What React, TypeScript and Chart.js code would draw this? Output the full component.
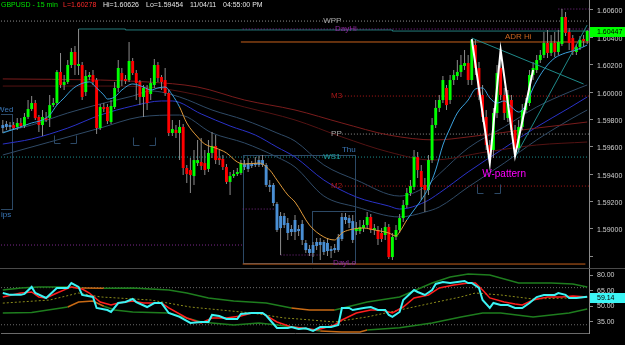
import React, { useEffect, useRef } from 'react';
import { Chart, registerables } from 'chart.js';

Chart.register(...registerables);

const FONT = '"Liberation Sans", Arial, Helvetica, sans-serif';

// ---------- categories: 15-minute bars (11/2 00:30 -> 11/3 17:00) ----------
const BAR_COUNT = 163;
const timeTickIndex = [10, 22, 34, 46, 58, 70, 82, 94, 106, 118, 130, 142, 154];
const timeTickLabels = ['3:00', '6:00', '9:00', '12:00', '15:00', '18:00', '21:00', '11/3', '3:00', '6:00', '9:00', '12:00', '15:00'];
const priceTicks = [1.588, 1.59, 1.592, 1.594, 1.596, 1.598, 1.6, 1.602, 1.604, 1.606];
const oscTicks = [35, 50, 65, 80];

// ---------- candles ----------
const openP = [
  1.59759, 1.59745, 1.59759, 1.59759, 1.59745, 1.59774, 1.59752, 1.59818, 1.59876, 1.5992,
  1.59818, 1.59759, 1.5981, 1.5981, 1.59905, 1.5992, 1.60147, 1.60052, 1.60074, 1.60198,
  1.60293, 1.60191, 1.60198, 1.6, 1.6011, 1.60125, 1.60088, 1.59737, 1.59891, 1.59891,
  1.59781, 1.59891, 1.6003, 1.60139, 1.60096, 1.60088, 1.60227, 1.60139, 1.60074, 1.59964,
  1.6003, 1.59986, 1.60052, 1.60198, 1.6011, 1.60088, 1.59993, 1.59701, 1.59723, 1.59701,
  1.59745, 1.59445, 1.5943, 1.59386, 1.59481, 1.59489, 1.59481, 1.59438, 1.59555, 1.59606,
  1.59518, 1.59511, 1.59452, 1.59343, 1.59386, 1.59401, 1.59408, 1.59452, 1.59438, 1.5946,
  1.59467, 1.59467, 1.59503, 1.59467, 1.59321, 1.59321, 1.59182, 1.59006, 1.59094, 1.59043,
  1.58999, 1.58977, 1.58999, 1.59036, 1.58897, 1.58853, 1.58824, 1.58875, 1.58904, 1.58904,
  1.58838, 1.58853, 1.58845, 1.58845, 1.58926, 1.59087, 1.59079, 1.59057, 1.58984, 1.58984,
  1.59006, 1.59028, 1.59087, 1.58992, 1.58992, 1.5897, 1.58955, 1.59014, 1.58794, 1.58941,
  1.58992, 1.59079, 1.59174, 1.59262, 1.59306, 1.59525, 1.59423, 1.59321, 1.59284, 1.59503,
  1.59759, 1.59884, 1.59942, 1.6003, 1.59942, 1.60088, 1.60117, 1.60147, 1.60191, 1.60212,
  1.60088, 1.60344, 1.60176, 1.59979, 1.59818, 1.59613, 1.59577, 1.59847, 1.60176, 1.59979,
  1.5981, 1.59942, 1.59723, 1.59591, 1.59745, 1.59869, 1.5992, 1.60125, 1.60161, 1.60234,
  1.60271, 1.60359, 1.60286, 1.60359, 1.60293, 1.60351, 1.60549, 1.60439, 1.60395, 1.60293,
  1.60329, 1.60388, 1.60373,
];
const highP = [
  1.59796, 1.59788, 1.59781, 1.59781, 1.5981, 1.5981, 1.59847, 1.59942, 1.59971, 1.59942,
  1.59832, 1.59869, 1.59854, 1.59979, 1.59957, 1.60161, 1.60286, 1.60125, 1.60234, 1.60322,
  1.60337, 1.60461, 1.6022, 1.60161, 1.60147, 1.60161, 1.60103, 1.59913, 1.5992, 1.59913,
  1.59942, 1.60074, 1.60234, 1.60176, 1.60125, 1.60366, 1.60249, 1.60161, 1.60088, 1.60052,
  1.60052, 1.60103, 1.60242, 1.6022, 1.60125, 1.60176, 1.60015, 1.59796, 1.59759, 1.59796,
  1.59767, 1.59467, 1.59518, 1.59577, 1.5965, 1.59664, 1.59577, 1.5965, 1.59708, 1.59686,
  1.59577, 1.5954, 1.59474, 1.59416, 1.5943, 1.59445, 1.59503, 1.59503, 1.59518, 1.59496,
  1.59525, 1.59533, 1.5954, 1.59481, 1.59357, 1.59335, 1.59196, 1.59123, 1.59116, 1.59079,
  1.59028, 1.59101, 1.59028, 1.59065, 1.58919, 1.58882, 1.58904, 1.58933, 1.58933, 1.58919,
  1.58933, 1.58875, 1.58889, 1.58962, 1.59116, 1.59116, 1.59101, 1.59101, 1.5905, 1.59065,
  1.59065, 1.59123, 1.59109, 1.59036, 1.59021, 1.59006, 1.5905, 1.59036, 1.5897, 1.59028,
  1.59109, 1.59211, 1.59299, 1.59357, 1.59577, 1.59562, 1.59467, 1.59372, 1.5954, 1.5981,
  1.59942, 1.59979, 1.60117, 1.60052, 1.60125, 1.60161, 1.60234, 1.60271, 1.60308, 1.60271,
  1.60388, 1.60381, 1.6022, 1.60052, 1.59869, 1.5965, 1.59884, 1.60198, 1.60308, 1.6003,
  1.60015, 1.59979, 1.59759, 1.59796, 1.59913, 1.59957, 1.60161, 1.6022, 1.60271, 1.60308,
  1.60439, 1.60454, 1.60417, 1.60439, 1.60454, 1.60607, 1.60585, 1.60468, 1.60417, 1.60351,
  1.6041, 1.60417, 1.60454,
];
const lowP = [
  1.59701, 1.59723, 1.59715, 1.59723, 1.59723, 1.59737, 1.59737, 1.59803, 1.59862, 1.59796,
  1.59708, 1.59679, 1.59781, 1.59745, 1.59891, 1.59905, 1.6003, 1.60015, 1.60059, 1.60176,
  1.60125, 1.60125, 1.59942, 1.59971, 1.60088, 1.60052, 1.59693, 1.59723, 1.59854, 1.59767,
  1.59767, 1.59876, 1.6, 1.60044, 1.60059, 1.60074, 1.60125, 1.59942, 1.59905, 1.59818,
  1.59869, 1.59942, 1.6003, 1.60074, 1.60015, 1.59971, 1.59679, 1.59679, 1.59664, 1.59503,
  1.59394, 1.59335, 1.59262, 1.59321, 1.5946, 1.5943, 1.59394, 1.59416, 1.59518, 1.59474,
  1.59467, 1.5943, 1.59328, 1.59248, 1.59372, 1.59386, 1.59394, 1.5943, 1.59416, 1.59445,
  1.59452, 1.59452, 1.59452, 1.59306, 1.59269, 1.59167, 1.58977, 1.58809, 1.59006, 1.58919,
  1.58948, 1.58919, 1.58948, 1.58882, 1.58824, 1.58802, 1.58794, 1.58845, 1.58772, 1.58809,
  1.58802, 1.58787, 1.58824, 1.58831, 1.58911, 1.59036, 1.59006, 1.58897, 1.58955, 1.58962,
  1.58977, 1.59006, 1.5897, 1.58955, 1.58882, 1.58904, 1.58919, 1.5878, 1.58772, 1.58919,
  1.5897, 1.5905, 1.59153, 1.5924, 1.59284, 1.59372, 1.59211, 1.59123, 1.59248, 1.59481,
  1.59737, 1.59854, 1.5992, 1.59869, 1.59913, 1.60052, 1.60088, 1.6011, 1.60161, 1.60052,
  1.60052, 1.60125, 1.59942, 1.59781, 1.59577, 1.59481, 1.59518, 1.5981, 1.59942, 1.59796,
  1.59781, 1.59686, 1.59533, 1.59562, 1.59723, 1.59847, 1.59898, 1.60088, 1.60139, 1.60212,
  1.60249, 1.60249, 1.60264, 1.60256, 1.60271, 1.60337, 1.6041, 1.60308, 1.60271, 1.60271,
  1.60308, 1.60329, 1.60351,
];
const closeP = [
  1.59737, 1.59767, 1.59745, 1.59737, 1.59774, 1.59752, 1.59818, 1.59876, 1.5992, 1.5981,
  1.59759, 1.59818, 1.59796, 1.59905, 1.5992, 1.60147, 1.60052, 1.60074, 1.60198, 1.60293,
  1.60198, 1.60205, 1.59964, 1.60117, 1.60125, 1.60074, 1.59737, 1.59891, 1.59876, 1.59788,
  1.59898, 1.6003, 1.60176, 1.60088, 1.60081, 1.60227, 1.60139, 1.60066, 1.59964, 1.6003,
  1.5992, 1.60066, 1.60198, 1.60103, 1.60074, 1.59993, 1.59701, 1.5973, 1.59701, 1.59745,
  1.59445, 1.59401, 1.59394, 1.59503, 1.59503, 1.5946, 1.5943, 1.59555, 1.59606, 1.59503,
  1.59503, 1.59452, 1.59343, 1.59386, 1.59401, 1.59416, 1.59481, 1.59474, 1.59481, 1.59474,
  1.59481, 1.59503, 1.59467, 1.59321, 1.59306, 1.59189, 1.58992, 1.59094, 1.59028, 1.5897,
  1.58977, 1.59065, 1.58984, 1.58919, 1.58845, 1.58824, 1.58882, 1.58904, 1.58882, 1.58831,
  1.58897, 1.58838, 1.5886, 1.58941, 1.59087, 1.59065, 1.59043, 1.58919, 1.59006, 1.59014,
  1.59028, 1.59087, 1.58992, 1.59006, 1.58926, 1.58926, 1.59014, 1.58794, 1.58941, 1.58992,
  1.59079, 1.59174, 1.59262, 1.59313, 1.59525, 1.5943, 1.59306, 1.59284, 1.59503, 1.59759,
  1.59884, 1.59942, 1.60088, 1.59905, 1.60088, 1.60125, 1.60147, 1.60198, 1.60212, 1.60088,
  1.60381, 1.60176, 1.59979, 1.59818, 1.59613, 1.5954, 1.59847, 1.60139, 1.59979, 1.59847,
  1.59979, 1.59723, 1.59591, 1.59745, 1.59869, 1.5992, 1.60125, 1.60176, 1.60234, 1.60271,
  1.60359, 1.60286, 1.60359, 1.60293, 1.60366, 1.60549, 1.60432, 1.60359, 1.60293, 1.60329,
  1.60381, 1.60373, 1.60447,
];
// bars inside the highlighted session boxes (drawn blue)
const sessionBarRanges = [[0, 2], [67, 97]];

// ---------- moving averages (bar index, price) ----------
const fastMA = [
  [0, 1.59701], [4, 1.59737], [8, 1.59774], [11, 1.59796], [13, 1.59832], [15, 1.59905], [17, 1.59957],
  [19, 1.60015], [21, 1.60052], [24, 1.60074], [26, 1.6003], [28, 1.59979], [29, 1.59949], [31, 1.59964],
  [33, 1.60015], [36, 1.60059], [39, 1.60037], [41, 1.60015], [43, 1.6003], [45, 1.60037], [47, 1.59979],
  [49, 1.59891], [51, 1.59774], [54, 1.59672], [56, 1.5962], [59, 1.59591], [62, 1.59555], [65, 1.59489],
  [67, 1.59474], [71, 1.59481], [74, 1.5943], [76, 1.59357], [79, 1.59248], [81, 1.59196], [85, 1.59028],
  [89, 1.58941], [92, 1.58919], [94, 1.5897], [96, 1.58992], [100, 1.59006], [103, 1.58992], [107, 1.5897],
  [109, 1.58948], [110, 1.58977], [112, 1.59065], [114, 1.59138], [116, 1.59211], [118, 1.59299],
  [120, 1.5943], [122, 1.59613], [124, 1.59737], [126, 1.59847], [129, 1.59942], [131, 1.60022],
  [133, 1.6003], [135, 1.59957], [137, 1.5992], [139, 1.59935], [141, 1.59891], [143, 1.59854],
  [145, 1.59905], [147, 1.6003], [149, 1.60125], [151, 1.60198], [153, 1.60249], [156, 1.60286],
  [159, 1.60308], [162, 1.60344],
];
const fastMAOrangeRanges = [[48, 111]];
const blueMA = [
  [0, 1.5962], [8, 1.59657], [18, 1.59737], [27, 1.59832], [36, 1.59898], [44, 1.59935], [47, 1.59935],
  [55, 1.5984], [63, 1.59752], [70, 1.59686], [76, 1.59598], [81, 1.59525], [89, 1.59357], [98, 1.59233],
  [107, 1.59167], [110, 1.59145], [117, 1.59196], [121, 1.59262], [129, 1.59416], [139, 1.59591],
  [148, 1.59745], [157, 1.59884], [162, 1.59964],
];
const slateUpper = [
  [0, 1.59708], [8, 1.59759], [18, 1.59847], [27, 1.59913], [36, 1.59971], [41, 1.60008], [49, 1.59964],
  [58, 1.59869], [67, 1.59796], [76, 1.59701], [81, 1.59642], [89, 1.59467], [98, 1.59357], [110, 1.5924],
  [117, 1.59306], [121, 1.59401], [129, 1.59591], [139, 1.59745], [148, 1.59891], [157, 1.6], [162, 1.60052],
];
const slateLower = [
  [0, 1.5954], [13, 1.59635], [27, 1.59737], [38, 1.59818], [49, 1.59832], [58, 1.59701], [67, 1.59628],
  [76, 1.59525], [81, 1.59452], [89, 1.5924], [98, 1.5916], [110, 1.59087], [117, 1.59123], [121, 1.5916],
  [129, 1.59306], [139, 1.59481], [148, 1.5965], [157, 1.59796], [162, 1.59869],
];
const slowRedUpper = [
  [0, 1.60096], [27, 1.60088], [40, 1.60074], [54, 1.60037], [67, 1.59942], [81, 1.59869], [94, 1.59774],
  [107, 1.59686], [120, 1.5965], [129, 1.59672], [148, 1.59737], [162, 1.59781],
];
const slowRedLower = [
  [0, 1.60044], [27, 1.60044], [40, 1.60037], [54, 1.59979], [67, 1.59891], [81, 1.59796], [94, 1.59672],
  [107, 1.59562], [119, 1.59503], [134, 1.59562], [148, 1.59613], [162, 1.59635],
];

// ---------- drawn objects (bar index, price) ----------
const wPattern = [[130, 1.60388], [135, 1.59481], [138, 1.60308], [142, 1.59533], [147, 1.60161]];
const trendDown = [[130, 1.60395], [161, 1.60059]];
const trendUp = [[142, 1.59525], [162, 1.6049]];
const tealSteps = [[21, 1.60461], [34, 1.60461], [34, 1.60454], [108, 1.60454], [108, 1.60446], [162.5, 1.60446]];

// ---------- pivot / range levels ----------
const levelWPP = 1.60519;
const levelWeekHigh = 1.60607;
const levelDayHi = 1.60461;
const levelADRHi = 1.60366;
const levelM3 = 1.59971;
const levelPP = 1.59693;
const levelWS1 = 1.59525;
const levelM2 = 1.59313;
const levelPrevLo1 = 1.58882;
const levelPrevLo2 = 1.59145;
const levelPrevLo3 = 1.58809;
const levelADRLo = 1.58743;

const sessionBoxes = [
  { from: -3, to: 2.6, top: 1.5984, bottom: 1.59145 },
  { from: 66.5, to: 97.5, top: 1.5954, bottom: 1.5875 },
  { from: 85.8, to: 97.5, top: 1.59131, bottom: 1.5875 },
];
const brackets = [
  { from: 14.2, to: 20.3, top: 1.59686, bottom: 1.59628 },
  { from: 36.1, to: 42.2, top: 1.59672, bottom: 1.59613 },
  { from: 131.5, to: 137.8, top: 1.59328, bottom: 1.59262 },
];

// ---------- oscillator panel (bar index, value) ----------
const rsiLine = [
  [0, 62.8], [2, 61], [5, 61], [6, 62], [8, 68.7], [9, 62.8], [12, 58], [15, 67.7], [18, 67.7], [19, 72.5],
  [21, 68.7], [22, 61], [25, 59], [26, 48.3], [29, 46.3], [30, 44.4], [32, 53.1], [34, 54.1], [36, 57],
  [37, 54], [40, 49.2], [42, 53.1], [44, 53], [46, 43.4], [49, 39.6], [52, 33.8], [55, 34.7], [57, 34.7],
  [58, 41.5], [60, 40.5], [62, 37.6], [65, 37.6], [66, 42.5], [69, 43.4], [72, 43.4], [73, 41], [76, 28.9],
  [79, 28.9], [80, 29.8], [82, 28], [84, 28.5], [86, 26], [88, 29.8], [91, 29.8], [93, 31.8], [94, 48.3],
  [96, 48.3], [97, 46.3], [100, 48.3], [102, 49.2], [104, 46.3], [106, 46.3], [107, 41.5], [108, 39.6],
  [110, 44.4], [111, 56], [114, 65.7], [115, 63.8], [117, 60.9], [119, 65.7], [120, 71.6], [122, 73.5],
  [124, 72.5], [126, 73.5], [128, 74.5], [129, 72.5], [130, 72.5], [132, 67.7], [133, 56], [135, 48.3],
  [136, 53.1], [138, 51.2], [140, 51.2], [142, 48.3], [144, 48.3], [146, 53.1], [148, 58.9], [150, 60.9],
  [153, 60.9], [154, 62.8], [156, 61], [157, 58], [159, 58], [162, 59.14],
];
const signalLine = [
  [0, 58.9], [5, 62.8], [8, 63.8], [10, 59], [12, 58], [15, 62.8], [19, 68.7], [22, 66.7], [24, 62.8],
  [27, 54.1], [30, 51.2], [32, 53.1], [36, 55], [39, 53.1], [44, 53.1], [46, 48.3], [51, 38.6], [55, 33.8],
  [58, 38.6], [62, 38.6], [66, 40.5], [69, 43.4], [72, 43], [76, 34.7], [80, 29.8], [83, 28.9], [87, 27],
  [92, 31.8], [94, 36.6], [98, 43.4], [102, 46.3], [105, 46.3], [108, 43.4], [111, 49.2], [114, 58],
  [118, 60.9], [121, 67.7], [125, 70.6], [129, 72.5], [131, 72.5], [133, 65.7], [135, 58], [139, 54.1],
  [142, 52.2], [144, 51.2], [147, 56], [151, 58.9], [155, 59], [158, 59.9], [162, 59],
];
const midLine = [
  [0, 53], [13, 56], [21, 62.8], [27, 59], [41, 56], [52, 49.2], [69, 43.4], [78, 38.6], [82, 37.6],
  [92, 34.7], [101, 39.6], [110, 46.3], [119, 53.1], [127, 59], [131, 62.8], [138, 60.9], [147, 57],
  [157, 58], [162, 58.5],
];
const upperBand = [
  [0, 65.7], [5, 67.7], [10, 68.7], [18, 68.7], [22, 67.7], [28, 67.5], [36, 67.7], [46, 65.7], [51, 62.8],
  [57, 58], [64, 55], [73, 53.1], [80, 48.3], [85, 46.3], [92, 46.3], [101, 54.1], [110, 58.9], [119, 72.5],
  [124, 78.3], [129, 81.2], [135, 80.3], [143, 72.5], [152, 72.5], [158, 71.6], [162, 68.7],
];
const upperBandOrange = [[22, 28], [79, 92]];
const lowerBand = [
  [0, 43.4], [8, 44], [18, 49.2], [21, 54], [25, 55], [28, 50], [31, 46.3], [36, 44.4], [46, 43.4], [55, 34.7],
  [64, 31.8], [71, 33.8], [76, 31.8], [82, 29], [88, 26], [94, 25], [99, 25], [101, 27], [110, 29],
  [119, 33.8], [127, 39.6], [133, 43.4], [138, 43.4], [147, 39.6], [157, 43.4], [162, 47.3],
];
const lowerBandOrange = [[18, 28], [88, 100]];
const oscLevels = [68, 32];

// ---------- helpers ----------
const pts = (k: number[][]) => k.map(([x, y]) => ({ x, y }));
const seg = (a: number, b: number, v: number) => [{ x: a, y: v }, { x: b, y: v }];
const inRanges = (i: number, r: number[][]) => r.some(([s, e]) => i >= s && i <= e);
const line = (data: any, color: string, width: number, extra: any = {}) => ({
  type: 'line', data, borderColor: color, borderWidth: width, pointRadius: 0, fill: false, tension: 0, order: 20, ...extra,
});
const splitColor = (knots: number[][], ranges: number[][], base: string, alt: string) => (ctx: any) => {
  const i = knots[ctx.p0DataIndex][0];
  return ranges.some(([s, e]) => i >= s && i < e) ? alt : base;
};
const text = (ctx: any, t: string, x: number, y: number, color: string, size = 8, align = 'left') => {
  ctx.save();
  ctx.font = `${size}px ${FONT}`;
  ctx.fillStyle = color;
  ctx.textAlign = align;
  ctx.textBaseline = 'middle';
  ctx.fillText(t, x, y);
  ctx.restore();
};
const noPadY = (s: any) => { s.width = 36; s.paddingTop = 0; s.paddingBottom = 0; };

const levelLabels = [
  { t: 'WPP', at: 88.8, p: levelWPP, c: '#a8a8a8' },
  { t: 'DayHi', at: 92.1, p: levelDayHi, c: '#8e2a9e' },
  { t: 'ADR Hi', at: 139.2, p: 1.60403, c: '#c8641e' },
  { t: 'M3', at: 91.0, p: levelM3, c: '#a81818' },
  { t: 'PP', at: 91.0, p: levelPP, c: '#a8a8a8' },
  { t: 'Thu', at: 94.0, p: 1.59577, c: '#3b78b8' },
  { t: 'WS1', at: 88.8, p: levelWS1, c: '#1fa0a0' },
  { t: 'M2', at: 91.0, p: levelM2, c: '#a81818' },
  { t: 'DayLo', at: 91.5, p: 1.5875, c: '#8e2a9e' },
  { t: 'Wed', at: -1.6, p: 1.59869, c: '#3b78b8' },
  { t: 'ips', at: -0.5, p: 1.59101, c: '#3b78b8' },
];
const titleParts = [
  { t: 'GBPUSD - 15 min', x: 1, c: '#00e000' },
  { t: 'L=1.60278', x: 63, c: '#ff2a2a' },
  { t: 'Hi=1.60626', x: 103, c: '#e6e6e6' },
  { t: 'Lo=1.59454', x: 146, c: '#e6e6e6' },
  { t: '11/04/11', x: 190, c: '#e6e6e6' },
  { t: '04:55:00 PM', x: 223, c: '#e6e6e6' },
];

const topPlugin = {
  id: 'topDecor',
  beforeDatasetsDraw(chart: any) {
    const { ctx, chartArea: a, scales } = chart;
    const xs = scales.x, ys = scales.y;
    ctx.save();
    ctx.beginPath();
    ctx.rect(a.left, a.top, a.right - a.left, a.bottom - a.top);
    ctx.clip();
    ctx.strokeStyle = '#2c4966';
    ctx.lineWidth = 1;
    for (const b of sessionBoxes) {
      const x0 = Math.round(xs.getPixelForValue(b.from)) + 0.5;
      const x1 = Math.round(xs.getPixelForValue(b.to)) + 0.5;
      const y0 = Math.round(ys.getPixelForValue(b.top)) + 0.5;
      const y1 = Math.round(ys.getPixelForValue(b.bottom)) + 0.5;
      ctx.strokeRect(x0, y0, x1 - x0, y1 - y0);
    }
    ctx.beginPath();
    for (const b of brackets) {
      const x0 = Math.round(xs.getPixelForValue(b.from)) + 0.5;
      const x1 = Math.round(xs.getPixelForValue(b.to)) + 0.5;
      const y0 = Math.round(ys.getPixelForValue(b.top)) + 0.5;
      const y1 = Math.round(ys.getPixelForValue(b.bottom)) + 0.5;
      ctx.moveTo(x0, y0); ctx.lineTo(x0, y1); ctx.lineTo(x0 + 6, y1);
      ctx.moveTo(x1 - 6, y1); ctx.lineTo(x1, y1); ctx.lineTo(x1, y0);
    }
    ctx.stroke();
    ctx.restore();
  },
  afterDatasetsDraw(chart: any) {
    const { ctx, scales } = chart;
    const xs = scales.x, ys = scales.y;
    for (const l of levelLabels) {
      text(ctx, l.t, xs.getPixelForValue(l.at), ys.getPixelForValue(l.p), l.c, 8);
    }
    text(ctx, 'W-pattern', xs.getPixelForValue(132.9), ys.getPixelForValue(1.59401), '#ff00ff', 10);
  },
  afterDraw(chart: any) {
    const { ctx, scales } = chart;
    for (const p of titleParts) text(ctx, p.t, p.x, 5.5, p.c, 7);
    const last = closeP[BAR_COUNT - 1];
    const py = scales.y.getPixelForValue(last) + 1.5;
    ctx.save();
    ctx.fillStyle = '#00ff00';
    ctx.fillRect(590, Math.round(py - 5), 35, 10);
    ctx.restore();
    text(ctx, last.toFixed(5), 597, py, '#000000', 7);
  },
};

const botPlugin = {
  id: 'botDecor',
  afterDraw(chart: any) {
    const { ctx, scales } = chart;
    ctx.save();
    ctx.strokeStyle = '#4a4a4a';
    ctx.beginPath();
    ctx.moveTo(0, 0.5);
    ctx.lineTo(625, 0.5);
    ctx.stroke();
    const v = rsiLine[rsiLine.length - 1][1];
    const py = scales.y.getPixelForValue(v) + 1.5;
    ctx.fillStyle = '#3cf4f4';
    ctx.fillRect(590, Math.round(py - 5), 35, 10);
    ctx.restore();
    text(ctx, v.toFixed(2), 597, py, '#000000', 7);
  },
};

function topConfig(): any {
  const idx = Array.from({ length: BAR_COUNT }, (_, i) => i);
  const bodyColors = idx.map((i) =>
    inRanges(i, sessionBarRanges) ? '#4a8fd4' : closeP[i] >= openP[i] ? '#00ff00' : '#ff0000');
  const dot = { borderDash: [1, 2] };
  const datasets: any[] = [
    line(seg(-0.5, 162.5, levelWPP), '#8c8c8c', 1, dot),
    line(seg(154, 162.5, levelWeekHigh), '#7d2a8c', 1, dot),
    line(seg(66.5, 162.5, levelDayHi), '#8e2a9e', 1, dot),
    line(pts(tealSteps), '#237a7a', 1),
    line(seg(66, 162.5, levelADRHi), '#c8621c', 1),
    line(seg(94, 162.5, levelM3), '#b01818', 1, dot),
    line(seg(94, 162.5, levelPP), '#8c8c8c', 1, dot),
    line(seg(-0.5, 162.5, levelWS1), '#1a8f8f', 1, dot),
    line(seg(94, 162.5, levelM2), '#b01818', 1, dot),
    line(seg(-0.5, 66.5, levelPrevLo1), '#7d2a8c', 1, dot),
    line(seg(66.5, 75.5, levelPrevLo2), '#7d2a8c', 1, dot),
    line(seg(77, 88, levelPrevLo3), '#7d2a8c', 1, dot),
    line(seg(66.5, 161.5, levelADRLo), '#c8621c', 1),
    line(pts(slowRedUpper), '#7a1c1c', 1, { cubicInterpolationMode: 'monotone', order: 15 }),
    line(pts(slowRedLower), '#541313', 1, { cubicInterpolationMode: 'monotone', order: 15 }),
    line(pts(slateUpper), '#2f4a66', 1, { cubicInterpolationMode: 'monotone', order: 15 }),
    line(pts(slateLower), '#2f4a66', 1, { cubicInterpolationMode: 'monotone', order: 15 }),
    line(pts(blueMA), '#2a32c8', 1, { cubicInterpolationMode: 'monotone', order: 15 }),
    {
      type: 'bar', data: idx.map((i) => ({ x: i, y: [lowP[i], highP[i]] })), backgroundColor: '#8c8c8c',
      grouped: false, maxBarThickness: 1, barPercentage: 1, order: 10,
    },
    {
      type: 'bar', data: idx.map((i) => ({ x: i, y: [openP[i], closeP[i]] })), backgroundColor: bodyColors,
      grouped: false, maxBarThickness: 3, barPercentage: 1, minBarLength: 1, order: 9,
    },
    line(pts(fastMA), '#3aa0dc', 1, {
      order: 5, cubicInterpolationMode: 'monotone',
      segment: { borderColor: splitColor(fastMA, fastMAOrangeRanges, '#3aa0dc', '#e09a3a') },
    }),
    line(pts(trendDown), '#1f8a8a', 1, { order: 4 }),
    line(pts(trendUp), '#1f8a8a', 1, { order: 4 }),
    line(pts(wPattern), '#ffffff', 2, { order: 1 }),
  ];
  return {
    type: 'bar',
    data: { datasets },
    options: {
      animation: false, responsive: false, events: [],
      layout: { padding: { left: 1, right: 0, top: 0, bottom: 0 } },
      plugins: { legend: { display: false }, tooltip: { enabled: false } },
      scales: {
        x: { type: 'linear', min: -0.5, max: 162.5, offset: false, display: false, grid: { offset: false } },
        y: {
          type: 'linear', position: 'right', min: 1.58714, max: 1.60673, beginAtZero: false,
          afterFit: noPadY,
          afterBuildTicks: (s: any) => { s.ticks = priceTicks.map((v) => ({ value: v })); },
          border: { display: true, color: '#8a8a8a' },
          grid: { drawOnChartArea: false, drawTicks: true, tickLength: 4, color: '#8a8a8a' },
          ticks: {
            color: '#d0d0d0', font: { family: FONT, size: 7 }, padding: 4, labelOffset: 1.5,
            callback: (v: any) => (Number(v) < 1.589 ? '' : Number(v).toFixed(5)),
          },
        },
      },
    },
    plugins: [topPlugin],
  };
}

function botConfig(): any {
  const datasets: any[] = [
    ...oscLevels.map((v) => line(seg(-0.5, 162.5, v), '#6a6a6a', 1, { borderDash: [1, 2], order: 30 })),
    line(pts(upperBand), '#1e7d1e', 1.5, {
      order: 20, segment: { borderColor: splitColor(upperBand, upperBandOrange, '#1e7d1e', '#c86a14') },
    }),
    line(pts(lowerBand), '#1e7d1e', 1.5, {
      order: 20, segment: { borderColor: splitColor(lowerBand, lowerBandOrange, '#1e7d1e', '#c86a14') },
    }),
    line(pts(midLine), '#8b8b1a', 1, { borderDash: [2, 2], order: 15 }),
    line(pts(signalLine), '#ff1e1e', 1.5, { order: 10 }),
    line(pts(rsiLine), '#3cf4f4', 2, { order: 5 }),
  ];
  return {
    type: 'line',
    data: { datasets },
    options: {
      animation: false, responsive: false, events: [],
      layout: { padding: { left: 1, right: 0, top: 1, bottom: 0 } },
      plugins: { legend: { display: false }, tooltip: { enabled: false } },
      scales: {
        x: {
          type: 'linear', min: -0.5, max: 162.5, offset: false,
          afterFit: (s: any) => { s.height = 12; s.paddingLeft = 0; s.paddingRight = 0; },
          afterBuildTicks: (s: any) => { s.ticks = timeTickIndex.map((v) => ({ value: v })); },
          grid: { display: false },
          border: { display: true, color: '#6a6a6a' },
          ticks: {
            color: '#d0d0d0', font: { family: FONT, size: 7 }, padding: 4, maxRotation: 0, autoSkip: false,
            callback: (v: any) => {
              const k = timeTickIndex.indexOf(Number(v));
              return k >= 0 ? timeTickLabels[k] : '';
            },
          },
        },
        y: {
          type: 'linear', position: 'right', min: 24, max: 86.1,
          afterFit: noPadY,
          afterBuildTicks: (s: any) => { s.ticks = oscTicks.map((v) => ({ value: v })); },
          border: { display: true, color: '#8a8a8a' },
          grid: { drawOnChartArea: false, drawTicks: true, tickLength: 4, color: '#8a8a8a' },
          ticks: {
            color: '#d0d0d0', font: { family: FONT, size: 7 }, padding: 4,
            callback: (v: any) => Number(v).toFixed(2),
          },
        },
      },
    },
    plugins: [botPlugin],
  };
}

export default function App() {
  const topRef = useRef<HTMLCanvasElement>(null);
  const botRef = useRef<HTMLCanvasElement>(null);
  useEffect(() => {
    document.body.style.margin = '0';
    document.body.style.background = '#000';
    const top = new Chart(topRef.current as HTMLCanvasElement, topConfig());
    const bot = new Chart(botRef.current as HTMLCanvasElement, botConfig());
    return () => {
      top.destroy();
      bot.destroy();
    };
  }, []);
  return (
    <div style={{ position: 'relative', width: 625, height: 345, background: '#000', overflow: 'hidden' }}>
      <canvas ref={topRef} width={625} height={268} style={{ position: 'absolute', left: 0, top: 0, display: 'block' }} />
      <canvas ref={botRef} width={625} height={77} style={{ position: 'absolute', left: 0, top: 268, display: 'block' }} />
    </div>
  );
}
